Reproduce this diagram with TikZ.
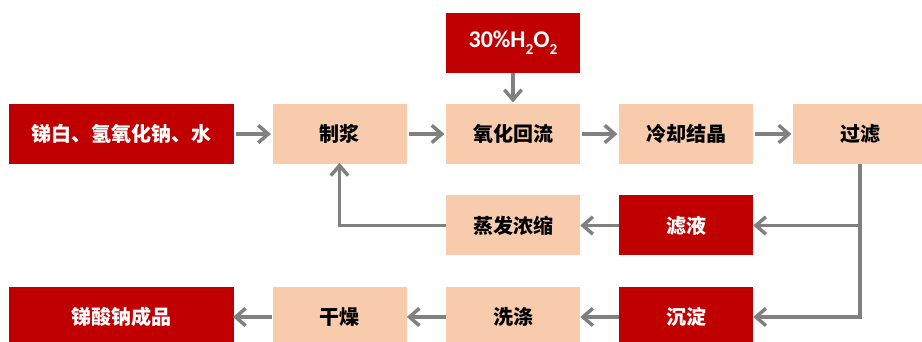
\documentclass[tikz,border=0pt]{standalone}
\usepackage{fontspec}
\setmainfont{Noto Sans CJK SC}
\newfontfamily\latinfont{Carlito}
\usetikzlibrary{arrows.meta}
\definecolor{boxred}{HTML}{C00000}
\definecolor{boxpeach}{HTML}{F8CBAD}
\definecolor{arrgray}{HTML}{808080}
\newcommand{\mysubscr}[1]{\raisebox{-0.28em}{\fontsize{11.5}{11.5}\selectfont #1}}
\begin{document}
\begin{tikzpicture}[x=0.75pt,y=-0.75pt,
  redbox/.style={rectangle,fill=boxred,text=white,minimum height=45pt,font=\fontsize{15}{15}\selectfont\bfseries,inner sep=0pt},
  peachbox/.style={rectangle,fill=boxpeach,text=black,minimum height=45pt,minimum width=100.5pt,font=\fontsize{15}{15}\selectfont\bfseries,inner sep=0pt},
  flow/.style={draw=arrgray,line width=2.7pt,-{Straight Barb[length=7.5pt,width=13pt,line width=2.6pt]}}]
\clip (0,0) rectangle (922,342);
\fill[white] (0,0) rectangle (922,342);
% row 1
\node[redbox,minimum width=168.75pt] (raw) at (121.5,134) {锑白、氢氧化钠、水};
\node[peachbox] (zj) at (339.5,134) {制浆};
\node[peachbox] (yh) at (513,134) {氧化回流};
\node[peachbox] (lq) at (686,134) {冷却结晶};
\node[peachbox] (gl) at (860,134) {过滤};
\node[redbox,minimum width=100.5pt,font=\latinfont\fontsize{18}{18}\selectfont\bfseries] (h2o2) at (513,43) {30\%H\mysubscr{2}O\mysubscr{2}};
% row 2
\node[peachbox] (zf) at (513,225.5) {蒸发浓缩};
\node[redbox,minimum width=100.5pt] (ly) at (686,225.5) {滤液};
% row 3
\node[redbox,minimum width=168.75pt] (prod) at (121.5,317) {锑酸钠成品};
\node[peachbox] (gz) at (339.5,317) {干燥};
\node[peachbox] (xd) at (513,317) {洗涤};
\node[redbox,minimum width=100.5pt] (cd) at (686,317) {沉淀};
% connectors
\draw[flow] ([xshift=1.5pt]raw.east) -- ([xshift=-1pt]zj.west);
\draw[flow] ([xshift=1.5pt]zj.east) -- ([xshift=-1pt]yh.west);
\draw[flow] ([xshift=1.5pt]yh.east) -- ([xshift=-1pt]lq.west);
\draw[flow] ([xshift=1.5pt]lq.east) -- ([xshift=-1pt]gl.west);
\draw[flow] (h2o2.south) -- ([yshift=1pt]yh.north);
\coordinate (split) at (860,225.5);
\coordinate (corner) at (860,317);
\coordinate (back) at (339.5,225.5);
\draw[draw=arrgray,line width=2.7pt] (gl.south) -- (corner);
\draw[flow] (split) -- (ly.east);
\draw[flow] ([xshift=1.35pt]corner) -- (cd.east);
\draw[flow] (ly.west) -- (zf.east);
\draw[flow] (zf.west) -- (back) -- ([yshift=1pt]zj.south);
\draw[flow] (cd.west) -- (xd.east);
\draw[flow] (xd.west) -- (gz.east);
\draw[flow] (gz.west) -- ([xshift=-1pt]prod.east);
\end{tikzpicture}
\end{document}
